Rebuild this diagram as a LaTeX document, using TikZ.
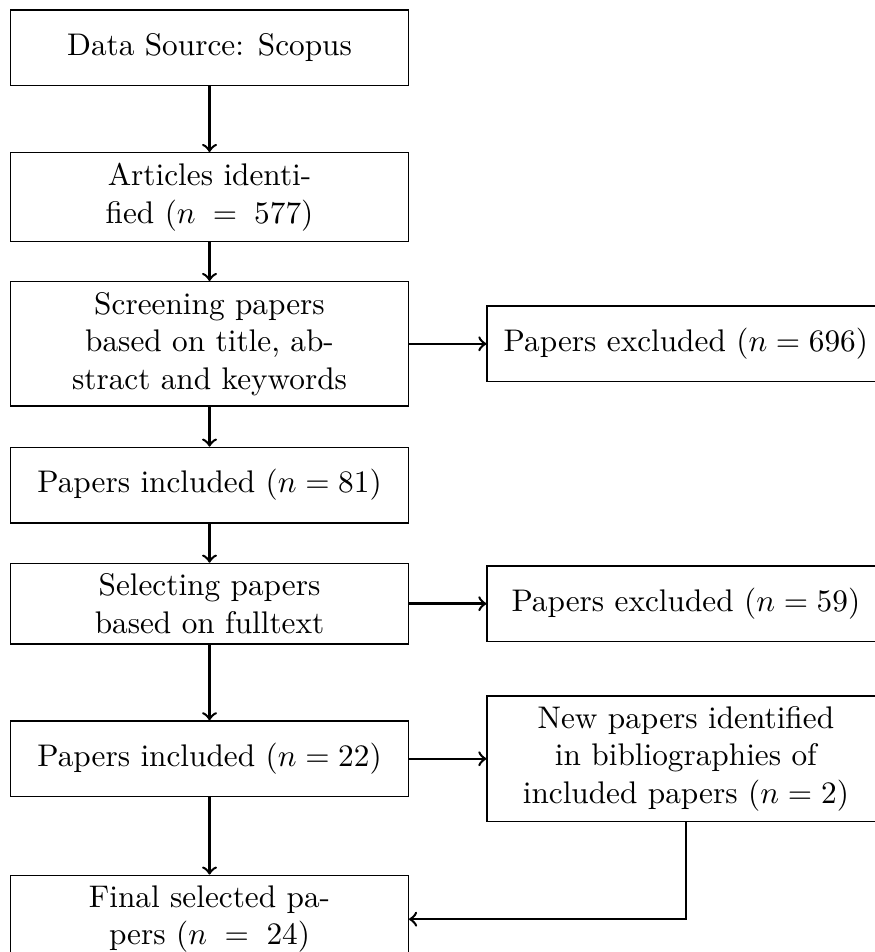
\documentclass[tikz,border=0pt]{standalone}
\usepackage{amsmath}
\usepackage{tikz}
\usetikzlibrary{arrows}
\usetikzlibrary{calc}
\usetikzlibrary{positioning}

\begin{document}
\begin{tikzpicture}[
    stage/.style={draw,rectangle,minimum width=4.47cm,minimum height=0.85cm,align=center},
    wrapped/.style={stage,text width=3.7cm}]

  \useasboundingbox (-2.355,0.537) rectangle +(9.83,-10.70);

  \node [stage] (source) at (0,0) {Data Source: Scopus};
  \node [wrapped,below=0.74cm of source] (articles) {Articles identified ($n = 577$)};
  \node [wrapped,below=0.44cm of articles] (screen) {Screening papers based on title, abstract and keywords};
  \node [stage,below=0.45cm of screen] (incl_81) {Papers included ($n = 81$)};
  \node [wrapped,below=0.44cm of incl_81] (select) {Selecting papers based on fulltext};
  \node [stage,below=0.85cm of select] (incl_22) {Papers included ($n = 22$)};
  \node [wrapped,below=0.87cm of incl_22] (final) {Final selected papers ($n = 24$)};

  \node [stage,right=0.87cm of screen] (excl_696) {Papers excluded ($n = 696$)};
  \node [stage,right=0.87cm of select] (excl_59) {Papers excluded ($n = 59$)};
  \node [wrapped,right=0.87cm of incl_22] (extra) {New papers identified in bibliographies of included papers ($n = 2$)};

  \path [draw,thick,->]
    (source)   edge (articles)
    (articles) edge (screen)
    (screen)   edge (incl_81)
    (incl_81)  edge (select)
    (select)   edge (incl_22)
    (incl_22)  edge (final)
    (screen)   edge (excl_696)
    (select)   edge (excl_59)
    (incl_22)  edge (extra);

  \draw [thick,->] (extra) |- (final);

\end{tikzpicture}
\end{document}
